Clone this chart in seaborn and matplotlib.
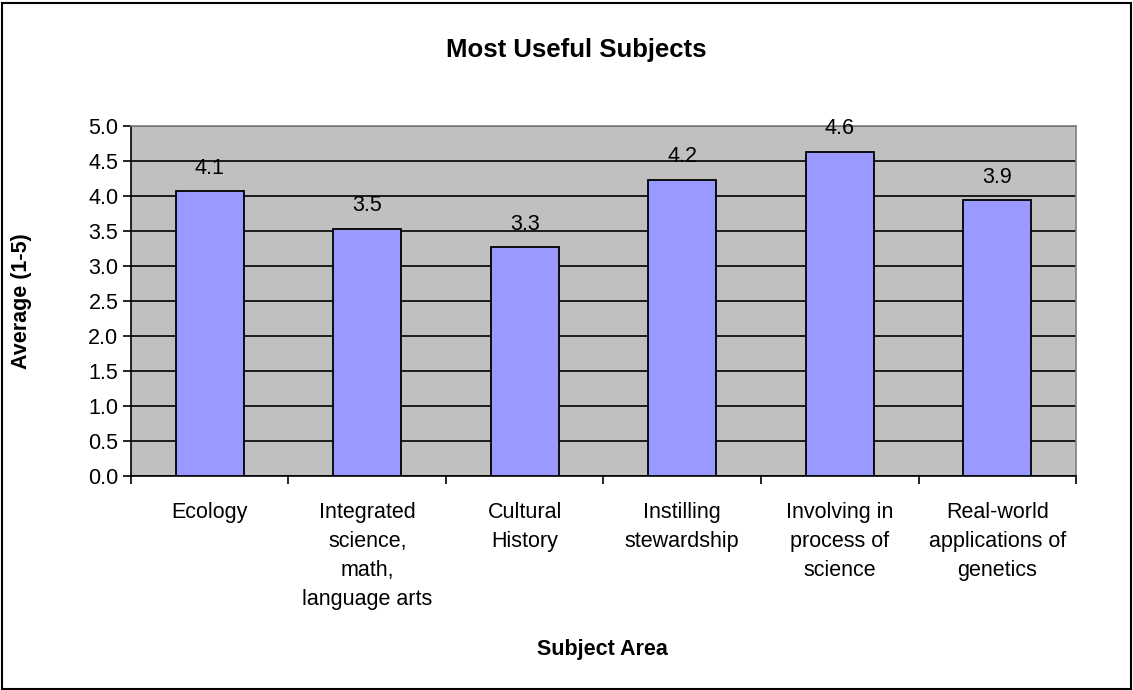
import matplotlib
matplotlib.use('Agg')
import matplotlib.pyplot as plt
import seaborn as sns
import pandas as pd
import numpy as np
from matplotlib.patches import Rectangle

# ─── Data ─────────────────────────────────────────────────────────────────────

subjects = ['Ecology',
            'Integrated\nscience,\nmath,\nlanguage arts',
            'Cultural\nHistory',
            'Instilling\nstewardship',
            'Involving in\nprocess of\nscience',
            'Real-world\napplications of\ngenetics']
averages = [4.07, 3.53, 3.27, 4.23, 4.63, 3.94]
y_ticks = [0.0, 0.5, 1.0, 1.5, 2.0, 2.5, 3.0, 3.5, 4.0, 4.5, 5.0]

df = pd.DataFrame({'subject': subjects, 'average': averages})

# ─── Style ────────────────────────────────────────────────────────────────────

sns.set_style('white')
plt.rcParams['font.family'] = ['Liberation Sans', 'DejaVu Sans']
plt.rcParams['text.color'] = 'black'
plt.rcParams['xtick.color'] = 'black'
plt.rcParams['ytick.color'] = 'black'

fig = plt.figure(figsize=(11.33, 6.9), dpi=100)
ax = fig.add_axes([0.1156, 0.310, 0.8341, 0.5074])
ax.set_facecolor('#C0C0C0')

sns.barplot(data=df, x='subject', y='average', color='#9999FF',
            edgecolor='black', linewidth=1.3, width=0.43, saturation=1,
            ax=ax, zorder=3)

# data labels
for i, v in enumerate(averages):
    ax.annotate(f'{v:.1f}', (i, v), xytext=(0, 9), textcoords='offset points',
                ha='center', va='bottom', fontsize=15.5, zorder=4)

ax.set_ylim(0, 5)
ax.set_xlim(-0.5, len(subjects) - 0.5)
ax.set_yticks(y_ticks)
ax.set_yticklabels([f'{t:.1f}' for t in y_ticks], fontsize=15.5)
ax.yaxis.grid(True, color='black', linewidth=1.2, zorder=1)
ax.set_axisbelow(True)

# category ticks sit between categories, labels without ticks
ax.set_xticks(np.arange(len(subjects)))
ax.set_xticklabels(subjects, fontsize=15.5, linespacing=1.5, va='top')
ax.tick_params(axis='x', which='major', length=0, pad=19)
ax.set_xticks(np.arange(len(subjects) + 1) - 0.5, minor=True)
ax.tick_params(axis='x', which='minor', length=6, width=1.2, color='black',
               direction='out', bottom=True)
ax.tick_params(axis='y', length=6, width=1.2, color='black', direction='out',
               left=True, pad=3)

for side in ['left', 'bottom']:
    ax.spines[side].set_color('black')
    ax.spines[side].set_linewidth(1.2)
for side in ['top', 'right']:
    ax.spines[side].set_visible(True)
    ax.spines[side].set_color('#808080')
    ax.spines[side].set_linewidth(1.2)

ax.set_xlabel('')
ax.set_ylabel('')

fig.text(0.509, 0.928, 'Most Useful Subjects', ha='center', va='center',
         fontsize=18.5, fontweight='bold')
fig.text(0.532, 0.058, 'Subject Area', ha='center', va='center',
         fontsize=15.5, fontweight='bold')
fig.text(0.019, 0.564, 'Average (1-5)', ha='center', va='center',
         rotation=90, fontsize=15.5, fontweight='bold')

# outer chart border
fig.patches.append(Rectangle((0.002, 0.002), 0.996, 0.994, transform=fig.transFigure,
                             fill=False, edgecolor='black', linewidth=1.5))

fig.savefig('out.png', dpi=100)
plt.close(fig)
